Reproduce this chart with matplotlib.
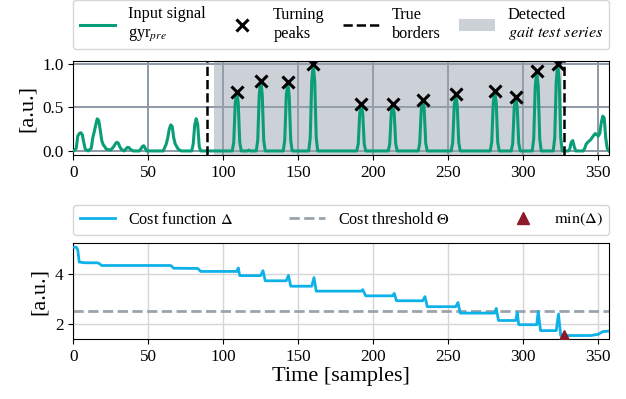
import numpy as np
import matplotlib
matplotlib.use('Agg')
import matplotlib.pyplot as plt
from matplotlib.lines import Line2D
from matplotlib.patches import Patch

plt.rcParams['font.family'] = 'serif'
plt.rcParams['font.serif'] = ['Liberation Serif', 'DejaVu Serif']
plt.rcParams['mathtext.fontset'] = 'stix'

# input signal gyr_pre, vertices (sample, value)
signal_pts = [
    (0, 0.0), (1, 0.01), (2, 0.03), (3, 0.17), (4, 0.2), (5, 0.21), (6, 0.19), (7, 0.1), (8, 0.02),
    (10, 0.0), (12, 0.03), (13, 0.15), (14, 0.22), (15, 0.3), (16, 0.37), (17, 0.35), (18, 0.24),
    (19, 0.12), (20, 0.07), (21, 0.05), (22, 0.02), (25, 0.01), (27, 0.05), (28, 0.08), (29, 0.10),
    (30, 0.09), (31, 0.05), (32, 0.02), (34, 0.0), (35, 0.02), (36, 0.04), (37, 0.04), (38, 0.02),
    (40, 0.0), (44, 0.0), (45, 0.02), (46, 0.05), (47, 0.06), (48, 0.03), (49, 0.0), (60, 0.0),
    (61, 0.04), (62, 0.08), (63, 0.15), (64, 0.25), (65, 0.3), (66, 0.28), (67, 0.15), (68, 0.08),
    (69, 0.05), (70, 0.02), (72, 0.0), (79, 0.0), (80, 0.08), (81, 0.3), (82, 0.37), (83, 0.3),
    (84, 0.05), (85, 0.0),
    (106, 0.0), (107, 0.1), (108, 0.55), (109, 0.68), (110, 0.55), (111, 0.1), (112, 0.0),
    (116, 0.0), (117, 0.01), (118, 0.0),
    (122, 0.0), (123, 0.12), (124, 0.65), (125, 0.81), (126, 0.65), (127, 0.12), (128, 0.0),
    (140, 0.0), (141, 0.12), (142, 0.63), (143, 0.79), (144, 0.63), (145, 0.12), (146, 0.0),
    (157, 0.0), (158, 0.15), (159, 0.8), (160, 1.0), (161, 0.8), (162, 0.15), (163, 0.0),
    (189, 0.0), (190, 0.08), (191, 0.43), (192, 0.54), (193, 0.43), (194, 0.08), (195, 0.0),
    (210, 0.0), (211, 0.08), (212, 0.43), (213, 0.54), (214, 0.43), (215, 0.08), (216, 0.0),
    (230, 0.0), (231, 0.09), (232, 0.47), (233, 0.59), (234, 0.47), (235, 0.09), (236, 0.0),
    (252, 0.0), (253, 0.1), (254, 0.52), (255, 0.65), (256, 0.52), (257, 0.1), (258, 0.0),
    (278, 0.0), (279, 0.1), (280, 0.55), (281, 0.69), (282, 0.55), (283, 0.1), (284, 0.0),
    (292, 0.0), (293, 0.09), (294, 0.5), (295, 0.62), (296, 0.5), (297, 0.09), (298, 0.0),
    (306, 0.0), (307, 0.14), (308, 0.74), (309, 0.92), (310, 0.74), (311, 0.14), (312, 0.0),
    (320, 0.0), (321, 0.15), (322, 0.8), (323, 1.0), (324, 0.8), (325, 0.15), (326, 0.0),
    (330, 0.0), (331, 0.02), (332, 0.1), (333, 0.12), (334, 0.05), (335, 0.0), (340, 0.0),
    (341, 0.03), (342, 0.08), (343, 0.1), (345, 0.13), (347, 0.18), (348, 0.2), (349, 0.19),
    (350, 0.17), (351, 0.2), (352, 0.32), (353, 0.4), (354, 0.38), (355, 0.15), (356, 0.03),
    (357, 0.0),
]

peak_x = [109, 125, 143, 160, 192, 213, 233, 255, 281, 295, 309, 323]
peak_y = [0.68, 0.81, 0.79, 1.0, 0.54, 0.54, 0.59, 0.65, 0.69, 0.62, 0.92, 1.0]

true_borders = [89.5, 327]
detected = (94, 326)

# cost function vertices (sample, value)
cost_pts = [
    (0, 5.1), (2, 5.1), (3, 5.0), (4, 4.5), (8, 4.47), (16, 4.47), (17, 4.45), (19, 4.36),
    (65, 4.36), (67, 4.25), (83, 4.24), (85, 4.12), (109, 4.12), (110, 4.26), (111, 3.95),
    (125, 3.95), (126.5, 4.15), (128, 3.74), (142, 3.74), (143.5, 3.96), (145, 3.52),
    (159, 3.52), (160.5, 3.87), (162, 3.32), (192, 3.32), (193, 3.38), (195, 3.13),
    (213, 3.13), (214, 3.23), (215.5, 2.93), (233, 2.93), (234.5, 3.1), (236, 2.69),
    (255, 2.69), (256.5, 2.86), (258, 2.43), (281, 2.43), (282, 2.62), (283.5, 2.13),
    (295, 2.13), (296, 2.46), (297, 1.96), (309, 1.96), (310, 2.5), (311.5, 1.72),
    (322, 1.72), (323.5, 2.39), (325, 1.52), (345, 1.52), (350, 1.57), (353, 1.68), (357, 1.7),
]
threshold = 2.5
min_x, min_y = 327, 1.52

green = '#0a9e78'
blue = '#0fb1e9'
red = '#8c1a2c'

sx, sy = zip(*signal_pts)
cx, cy = zip(*cost_pts)

fig = plt.figure(figsize=(6.26, 3.99), dpi=100)
ax1 = fig.add_axes([0.117, 0.6108, 0.8566, 0.2363])
ax2 = fig.add_axes([0.117, 0.1504, 0.8566, 0.2398])

# top panel
ax1.axvspan(detected[0], detected[1], color='#9aa3b0', alpha=0.5, lw=0, zorder=1)
ax1.plot(sx, sy, color=green, lw=2.2, zorder=3)
ax1.plot(peak_x, peak_y, 'x', color='black', ms=8, mew=2.2, zorder=4)
for b in true_borders:
    ax1.axvline(b, color='black', ls='--', lw=1.8, zorder=5)
ax1.grid(True, color='#8d99a5', lw=1.4, zorder=0)
ax1.set_axisbelow(True)
ax1.set_xlim(0, 357.5)
ax1.set_ylim(-0.05, 1.035)
ax1.set_yticks([0.0, 0.5, 1.0])
ax1.set_xticks([0, 50, 100, 150, 200, 250, 300, 350])
ax1.set_ylabel('[a.u.]', fontsize=16)
ax1.tick_params(labelsize=12.3)

handles1 = [
    Line2D([], [], color=green, lw=2.2),
    Line2D([], [], ls='none', marker='x', color='black', ms=8, mew=2.2),
    Line2D([], [], color='black', ls='--', lw=1.8),
    Patch(facecolor='#9aa3b0', alpha=0.5, lw=0),
]
labels1 = ['Input signal\ngyr$_{pre}$', 'Turning\npeaks', 'True\nborders',
           'Detected\n$\\mathit{gait\\ test\\ series}$']
ax1.legend(handles1, labels1, loc='lower left', bbox_to_anchor=(0, 1.124, 1, 0.4),
           mode='expand', ncol=4, borderaxespad=0, fontsize=11.7, handlelength=2.2,
           labelspacing=0.1, handletextpad=0.8, columnspacing=1.0)

# bottom panel
ax2.plot(cx, cy, color=blue, lw=2.0, zorder=3)
ax2.axhline(threshold, color='#9aa3ad', ls='--', lw=2.0, zorder=2)
ax2.plot([min_x], [min_y], '^', color=red, ms=9, zorder=4)
ax2.grid(True, color='#d6d6d6', lw=1.0, zorder=0)
ax2.set_axisbelow(True)
ax2.set_xlim(0, 357.5)
ax2.set_ylim(1.38, 5.26)
ax2.set_yticks([2, 4])
ax2.set_xticks([0, 50, 100, 150, 200, 250, 300, 350])
ax2.set_ylabel('[a.u.]', fontsize=16)
ax2.set_xlabel('Time [samples]', fontsize=16, labelpad=2)
ax2.tick_params(labelsize=12.3)

handles2 = [
    Line2D([], [], color=blue, lw=2.0),
    Line2D([], [], color='#9aa3ad', ls='--', lw=2.0),
    Line2D([], [], ls='none', marker='^', color=red, ms=9),
]
labels2 = ['Cost function $\\Delta$', 'Cost threshold $\\Theta$', '$\\min(\\Delta)$']
ax2.legend(handles2, labels2, loc='lower left', bbox_to_anchor=(0, 1.087, 1, 0.3),
           mode='expand', ncol=3, borderaxespad=0, fontsize=11.7, handlelength=2.2,
           handletextpad=0.8)

fig.savefig('out.png', dpi=100)
